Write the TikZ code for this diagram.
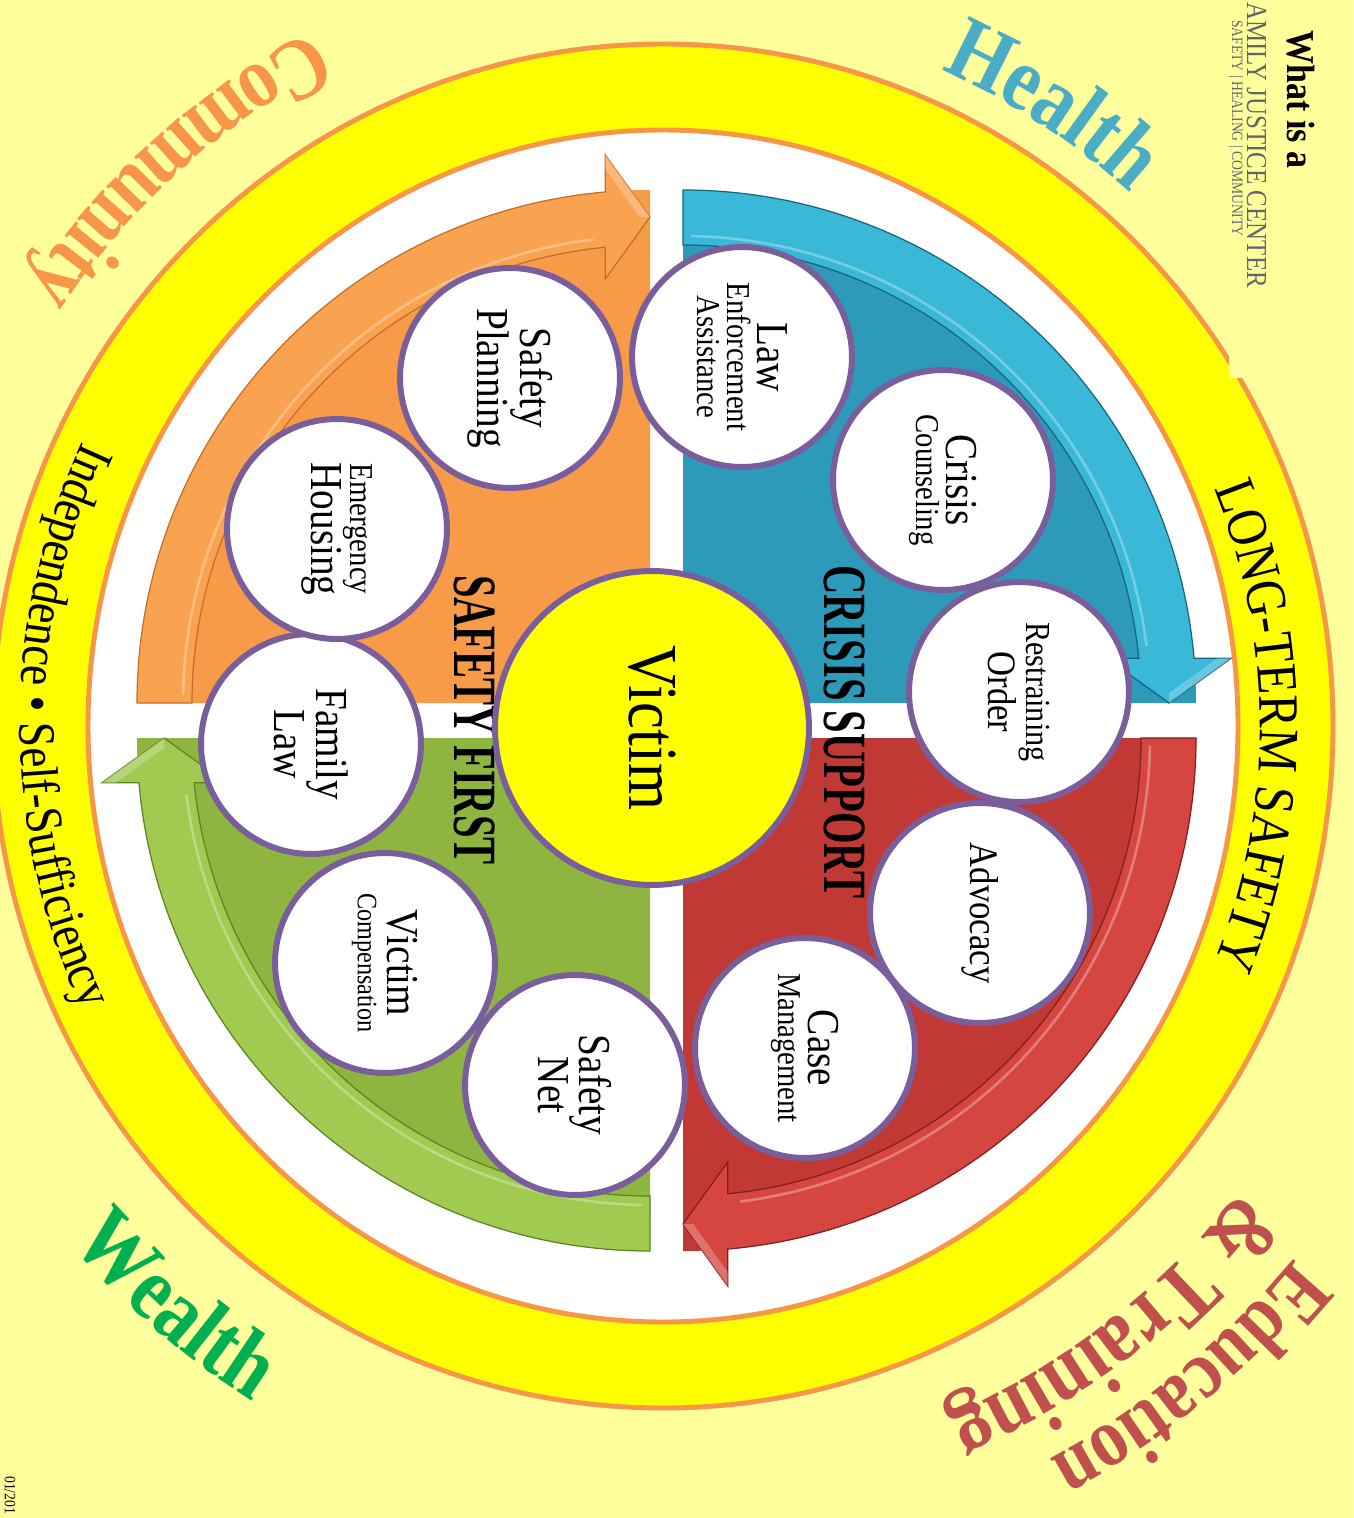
\documentclass[tikz,border=0pt]{standalone}
\usepackage{fontspec}
\setmainfont{Liberation Serif}[FakeStretch=0.86]
\newfontfamily\tallfont{Liberation Serif}[FakeStretch=0.66]
\usetikzlibrary{decorations.text}

\definecolor{bgyellow}{RGB}{255,255,156}
\definecolor{ringyellow}{RGB}{255,255,0}
\definecolor{ringline}{RGB}{247,150,70}
\definecolor{ringpurple}{RGB}{122,94,155}
\definecolor{orgfill}{RGB}{247,155,72}
\definecolor{orgband}{RGB}{249,163,80}
\definecolor{orgline}{RGB}{196,110,40}
\definecolor{tealfill}{RGB}{44,154,184}
\definecolor{tealband}{RGB}{58,184,216}
\definecolor{tealline}{RGB}{25,100,125}
\definecolor{redfill}{RGB}{193,57,52}
\definecolor{redband}{RGB}{214,70,64}
\definecolor{redline}{RGB}{130,30,28}
\definecolor{grnfill}{RGB}{141,181,64}
\definecolor{grnband}{RGB}{160,202,80}
\definecolor{grnline}{RGB}{95,130,35}
\definecolor{healthblue}{RGB}{75,172,198}
\definecolor{commorange}{RGB}{247,150,70}
\definecolor{wealthgreen}{RGB}{0,176,80}
\definecolor{edured}{RGB}{192,80,77}
\definecolor{logogray}{RGB}{100,100,108}

\newcommand{\bigtxt}[1]{{\fontsize{26}{17}\selectfont #1}}
\newcommand{\drawquadrant}[5]{%
  \begin{scope}[shift={#1}, rotate=#2]
    \fill[#3] (0,0) -- (180:513) arc[start angle=180, end angle=90, radius=513] -- cycle;
    \filldraw[fill=#4, draw=#5, line width=0.7pt] (180:513) arc[start angle=180, end angle=95, radius=513]
      -- (-44.7,548) -- (0,486) -- (-44.7,424) -- (95.6:458)
      arc[start angle=95.6, end angle=180, radius=458] -- cycle;
    \fill[#4!60!white, opacity=0.6] (-44.7,548) -- (0,486) -- (-10,486) -- (-44.7,534) -- cycle;
    \draw[#4!70!white, line width=1.5pt] (179:467) arc[start angle=179, end angle=97, radius=467];
  \end{scope}}

\begin{document}
\begin{tikzpicture}[x=0.02cm, y=0.02cm,
    svc/.style={circle, draw=ringpurple, line width=3.4pt, fill=white, minimum size=4.4cm,
      inner sep=0pt, rotate=-90, align=center, font=\fontsize{19}{17}\selectfont},
    hub/.style={circle, draw=ringpurple, line width=3.4pt, fill=ringyellow, minimum size=6.28cm,
      inner sep=0pt, rotate=-90, font=\fontsize{40}{40}\selectfont},
    sectlbl/.style={rotate=-90, font=\tallfont\bfseries\fontsize{35}{35}\selectfont},
    logotxt/.style={rotate=-90, anchor=base west, inner sep=0pt},
    ringtxt/.style={decorate, decoration={text along path, text align=center, #1}}]
  \useasboundingbox (0,0) rectangle (1353,-1518);
  \fill[bgyellow] (0,0) rectangle (1353,-1518);

  % outer ring
  \filldraw[fill=ringyellow, draw=ringline, line width=2.8pt] (663,-726) ellipse [x radius=670, y radius=682];
  \filldraw[fill=white, draw=ringline, line width=2.8pt] (663,-726) ellipse [x radius=575, y radius=596];
  \fill[bgyellow] (1229,0) rectangle (1353,-378);

  % four quadrants with curved arrows
  \drawquadrant{(650,-703)}{0}{orgfill}{orgband}{orgline}
  \drawquadrant{(683,-703)}{-90}{tealfill}{tealband}{tealline}
  \drawquadrant{(683,-738)}{-180}{redfill}{redband}{redline}
  \drawquadrant{(650,-738)}{90}{grnfill}{grnband}{grnline}

  \node[sectlbl] (crisislbl) at (845,-732) {CRISIS SUPPORT};
  \node[sectlbl] (safetylbl) at (475,-720) {SAFETY FIRST};

  % services
  \node[svc] (lawenf) at (742,-357) {\bigtxt{Law}\\Enforcement\\Assistance};
  \node[svc] (crisis) at (943,-480) {\bigtxt{Crisis}\\Counseling};
  \node[svc] (restrain) at (1019,-692) {{\fontsize{20}{17}\selectfont Restraining}\\{\fontsize{23}{17}\selectfont Order}};
  \node[svc] (advocacy) at (980,-913) {{\fontsize{23}{17}\selectfont Advocacy}};
  \node[svc] (casemgmt) at (805,-1048) {\bigtxt{Case}\\Management};
  \node[svc] (safetynet) at (575,-1085) {\bigtxt{Safety}\\\bigtxt{Net}};
  \node[svc] (victcomp) at (385,-963) {\bigtxt{Victim}\\{\fontsize{16}{17}\selectfont Compensation}};
  \node[svc] (famlaw) at (311,-744) {\bigtxt{Family}\\\bigtxt{Law}};
  \node[svc] (emerhouse) at (337,-529) {Emergency\\\bigtxt{Housing}};
  \node[svc] (safeplan) at (510,-378) {\bigtxt{Safety}\\\bigtxt{Planning}};

  \node[hub] (victim) at (652,-728) {Victim};

  % texts on and around the ring
  \path[shift={(663,-726)}, ringtxt={text color=black, text={|\fontsize{32.5}{32.5}\selectfont|LONG-TERM SAFETY}}]
    (40:597 and 617) arc[start angle=40, end angle=-40, x radius=597, y radius=617];
  \path[shift={(663,-726)}, ringtxt={text color=black, text={|\fontsize{30}{30}\selectfont|Independence {\textbullet} Self-Sufficiency}}]
    (145:643 and 661) arc[start angle=145, end angle=215, x radius=643, y radius=661];
  \path[shift={(663,-726)}, ringtxt={text color=healthblue, text={|\bfseries\fontsize{52}{52}\selectfont|Health}}]
    (85:700 and 715) arc[start angle=85, end angle=30, x radius=700, y radius=715];
  \path[shift={(663,-726)}, ringtxt={text color=commorange, text={|\bfseries\fontsize{50}{50}\selectfont|Community}}]
    (100:768 and 782) arc[start angle=100, end angle=163, x radius=768, y radius=782];
  \path[shift={(663,-726)}, ringtxt={text color=wealthgreen, text={|\bfseries\fontsize{52}{52}\selectfont|Wealth}}]
    (200:780 and 794) arc[start angle=200, end angle=259, x radius=780, y radius=794];
  \path[shift={(663,-726)}, ringtxt={text color=edured, text={|\bfseries\fontsize{48}{48}\selectfont|Education}}]
    (-18:822 and 830) arc[start angle=-18, end angle=-84, x radius=822, y radius=830];
  \path[shift={(663,-726)}, ringtxt={text color=edured, text={|\bfseries\fontsize{51}{51}\selectfont|{\&} Training}}]
    (-20:736 and 748) arc[start angle=-20, end angle=-86, x radius=736, y radius=748];

  % logo and date
  \node[logotxt, font=\bfseries\fontsize{22.5}{22.5}\selectfont] (whatis) at (1287,-30) {What is a};
  \node[logotxt, text=logogray, font=\fontsize{16.5}{16.5}\selectfont] (fjc) at (1247,-2) {AMILY JUSTICE CENTER};
  \node[logotxt, text=logogray, font=\fontsize{9}{9}\selectfont] (tagline) at (1232,-20) {SAFETY | HEALING | COMMUNITY};
  \node[logotxt, font=\fontsize{9}{9}\selectfont] (datestamp) at (5,-1476) {01/201};
\end{tikzpicture}
\end{document}
